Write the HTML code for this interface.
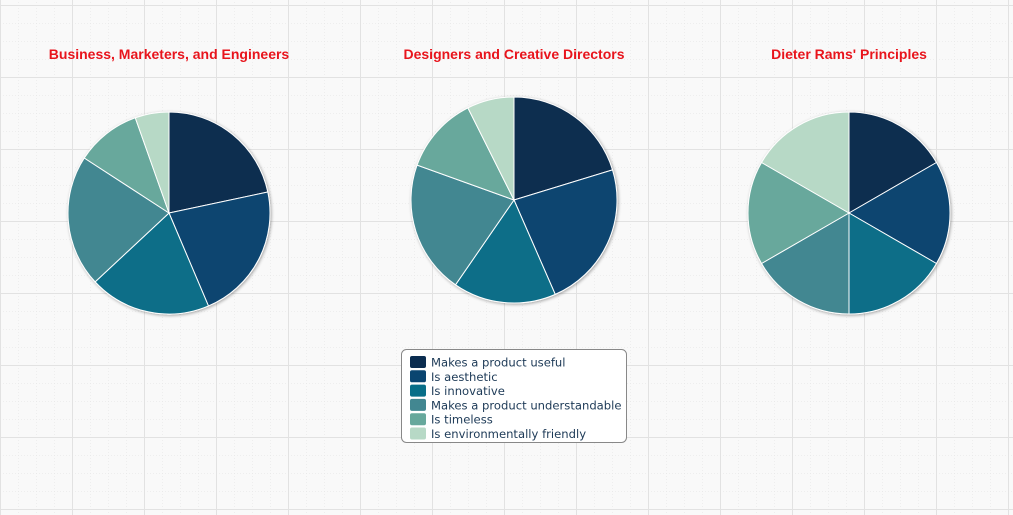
<!DOCTYPE html>
<html><head><meta charset="utf-8"><style>
body{margin:0;background:#f9f9f9;}
svg{display:block;}
.title{font-family:"Liberation Sans",sans-serif;}
.leg{font-family:"DejaVu Sans",sans-serif;}
</style></head><body>
<svg id="c" width="1013" height="515">
<defs>
<pattern id="minor" width="18" height="18" patternUnits="userSpaceOnUse" x="0" y="5">
<path d="M0 0H18M0 0V18" stroke="#e4e4e4" stroke-width="1" stroke-dasharray="1,2" fill="none"/>
</pattern>
<pattern id="major" width="72" height="72" patternUnits="userSpaceOnUse" x="0" y="5">
<path d="M0 0H72M0 0V72" stroke="#e2e2e2" stroke-width="2" fill="none"/>
</pattern>
<filter id="sh" x="-10%" y="-10%" width="120%" height="120%"><feGaussianBlur in="SourceAlpha" stdDeviation="1.5"/><feOffset dx="1" dy="1"/><feComponentTransfer><feFuncA type="linear" slope="0.35"/></feComponentTransfer><feMerge><feMergeNode/><feMergeNode in="SourceGraphic"/></feMerge></filter>
</defs>
<rect width="1013" height="515" fill="url(#minor)"/>
<rect width="1013" height="515" fill="url(#major)"/>
<g id="pies"></g>
<g>
<rect x="401.5" y="349.5" width="225" height="93" rx="5" fill="#fff" stroke="#888"/>
<g id="leg"></g>
</g>
</svg>
<script>
const categories=["Makes a product useful","Is aesthetic","Is innovative","Makes a product understandable","Is timeless","Is environmentally friendly"];
const titles=["Business, Marketers, and Engineers","Designers and Creative Directors","Dieter Rams' Principles"];
const seriesBusiness=[78,79,70,76,37.5,19.5];
const seriesDesigners=[73,83.4,58.2,75.2,43.6,26.6];
const seriesRams=[1,1,1,1,1,1];
const colors=["#0b2d50","#0a4570","#086e88","#428791","#67a89c","#b7d9c6"];
const layout=[{cx:169,cy:213,r:101,ty:59},{cx:514,cy:200,r:103,ty:59},{cx:849,cy:213,r:101,ty:59}];
const all=[seriesBusiness,seriesDesigners,seriesRams];
const NS="http://www.w3.org/2000/svg";
const pies=document.getElementById('pies');
all.forEach((vals,i)=>{
  const L=layout[i];
  const t=document.createElementNS(NS,'text');
  
  
  t.setAttribute('class','title');
  t.setAttribute('x',L.cx);t.setAttribute('y',L.ty);t.setAttribute('text-anchor','middle');
  t.setAttribute('fill','#e8141c');t.setAttribute('font-size','14');t.setAttribute('font-weight','bold');
  t.textContent=titles[i];pies.appendChild(t);
  const g=document.createElementNS(NS,'g');g.setAttribute('filter','url(#sh)');
  
  
  pies.appendChild(g);
  const tot=vals.reduce((a,b)=>a+b,0);let a0=0;
  vals.forEach((v,j)=>{
    const a1=a0+v/tot*2*Math.PI;
    const x0=L.cx+L.r*Math.sin(a0),y0=L.cy-L.r*Math.cos(a0);
    const x1=L.cx+L.r*Math.sin(a1),y1=L.cy-L.r*Math.cos(a1);
    const p=document.createElementNS(NS,'path');
    
    
    p.setAttribute('d',`M${L.cx},${L.cy}L${x0},${y0}A${L.r},${L.r} 0 ${a1-a0>Math.PI?1:0} 1 ${x1},${y1}Z`);
    p.setAttribute('fill',colors[j]);p.setAttribute('stroke','#fff');p.setAttribute('stroke-width','1');
    g.appendChild(p);a0=a1;
  });
});
const leg=document.getElementById('leg');
categories.forEach((c,j)=>{
  const y=356+j*14.3;
  const r=document.createElementNS(NS,'rect');
  
  
  r.setAttribute('x',410);r.setAttribute('y',y);r.setAttribute('width',16);r.setAttribute('height',12);r.setAttribute('rx',2);r.setAttribute('fill',colors[j]);
  leg.appendChild(r);
  const t=document.createElementNS(NS,'text');
  
  
  t.setAttribute('class','leg');
  t.setAttribute('x',431);t.setAttribute('y',y+10.5);t.setAttribute('font-size','11.6');t.setAttribute('fill','#1d3a57');
  t.textContent=c;leg.appendChild(t);
});
</script>
</body></html>
